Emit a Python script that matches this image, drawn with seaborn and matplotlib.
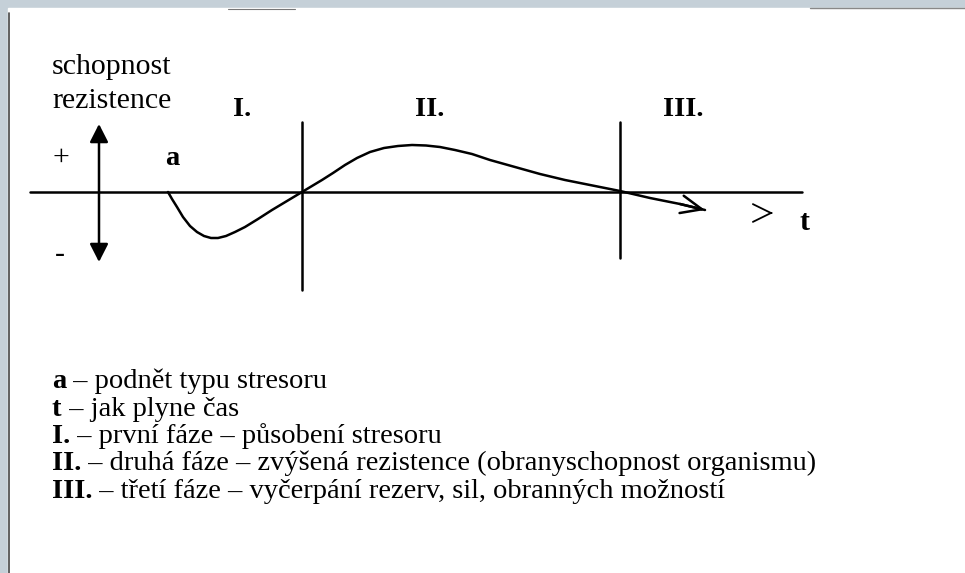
import numpy as np
import pandas as pd
import matplotlib
matplotlib.use("Agg")
import matplotlib.pyplot as plt
import seaborn as sns

# Diagram drawn in page (pixel) units: x to the right, y downwards
curve_x = [168, 172, 177, 183, 190, 197, 204, 211, 218, 226, 235, 245,
           258, 272, 287, 302, 312, 322, 333, 345, 357, 370, 384, 398,
           412, 426, 440, 455, 472, 490, 515, 540, 565, 590, 620,
           650, 680, 705]
curve_y = [192, 199, 207, 217, 226, 232, 236, 238, 238, 236, 232, 227,
           219, 210, 201, 192, 186, 180, 173, 165, 158, 152, 148, 146,
           145, 145.5, 147, 150, 154, 160, 167, 174, 180, 185, 191,
           198, 204, 210]

phase_x = [302, 620]
phase_bottom = [290, 258]
phase_labels = ["I.", "II.", "III."]
phase_label_x = [233, 415, 663]

legend_keys = ["a", "t", "I.", "II.", "III."]
legend_texts = [" – podnět typu stresoru",
                " – jak plyne čas",
                " – první fáze – působení stresoru",
                " – druhá fáze – zvýšená rezistence (obranyschopnost organismu)",
                " – třetí fáze – vyčerpání rezerv, sil, obranných možností"]

AXIS_Y = 192
GRAY = "#c5d0d8"
FS = 21.5
LEG_FS = 20.5

sns.set_theme(style="white")
plt.rcParams['font.family'] = ['Liberation Serif', 'DejaVu Serif']
plt.rcParams['text.color'] = 'black'

fig = plt.figure(figsize=(9.65, 5.73), dpi=100, facecolor=GRAY)
ax = fig.add_axes([0, 0, 1, 1])
ax.set_xlim(0, 965)
ax.set_ylim(573, 0)
ax.axis("off")

# page area and scan edges
ax.add_patch(plt.Rectangle((8, 8), 960, 570, color="white", zorder=0))
ax.plot([9, 9], [13, 573], color="#444444", lw=1.2)
ax.plot([810, 965], [8, 8], color="#888888", lw=1.0)
ax.plot([228, 295], [9, 9], color="#777777", lw=0.8)

# time axis
ax.plot([30, 802], [AXIS_Y, AXIS_Y], color="black", lw=1.8)

# resistance double arrow
ax.annotate("", xy=(99, 124), xytext=(99, 262),
            arrowprops=dict(arrowstyle="<|-|>,head_length=0.55,head_width=0.28",
                            mutation_scale=20, lw=1.8, color="black",
                            shrinkA=0, shrinkB=0))

# phase boundaries
for px, pb in zip(phase_x, phase_bottom):
    ax.plot([px, px], [122, pb], color="black", lw=1.8)

# resistance curve
df = pd.DataFrame({"t": curve_x, "r": curve_y})
sns.lineplot(data=df, x="t", y="r", sort=False, estimator=None,
             color="black", lw=1.8, ax=ax)
ax.annotate("", xy=(curve_x[-1], curve_y[-1]), xytext=(curve_x[-2], curve_y[-2]),
            arrowprops=dict(arrowstyle="->,head_length=0.75,head_width=0.32",
                            mutation_scale=20, lw=1.8, color="black",
                            shrinkA=0, shrinkB=0))
# time arrow
ax.annotate("", xy=(773, 213), xytext=(771, 213),
            arrowprops=dict(arrowstyle="->,head_length=0.65,head_width=0.32",
                            mutation_scale=20, lw=1.3, color="black",
                            shrinkA=0, shrinkB=0))

# labels
ax.text(52, 74, "schopnost", fontsize=FS, va="baseline")
ax.text(52, 108, "rezistence", fontsize=FS, va="baseline")
ax.text(52, 165, "+", fontsize=FS, va="baseline")
ax.text(55, 262, "-", fontsize=FS, va="baseline")
ax.text(165, 165, "a", fontsize=FS - 1, fontweight="bold", va="baseline")
ax.text(800, 230, "t", fontsize=FS, fontweight="bold", va="baseline")
for lab, lx in zip(phase_labels, phase_label_x):
    ax.text(lx, 116, lab, fontsize=FS - 1, fontweight="bold", va="baseline")

# legend
for i, (k, s) in enumerate(zip(legend_keys, legend_texts)):
    key = ax.text(52, 388 + i * 27.5, k, fontsize=LEG_FS, fontweight="bold", va="baseline")
    ax.annotate(s, xy=(1, 0), xycoords=key, fontsize=LEG_FS, va="bottom", ha="left")

fig.savefig("out.png", dpi=100, facecolor=GRAY)
